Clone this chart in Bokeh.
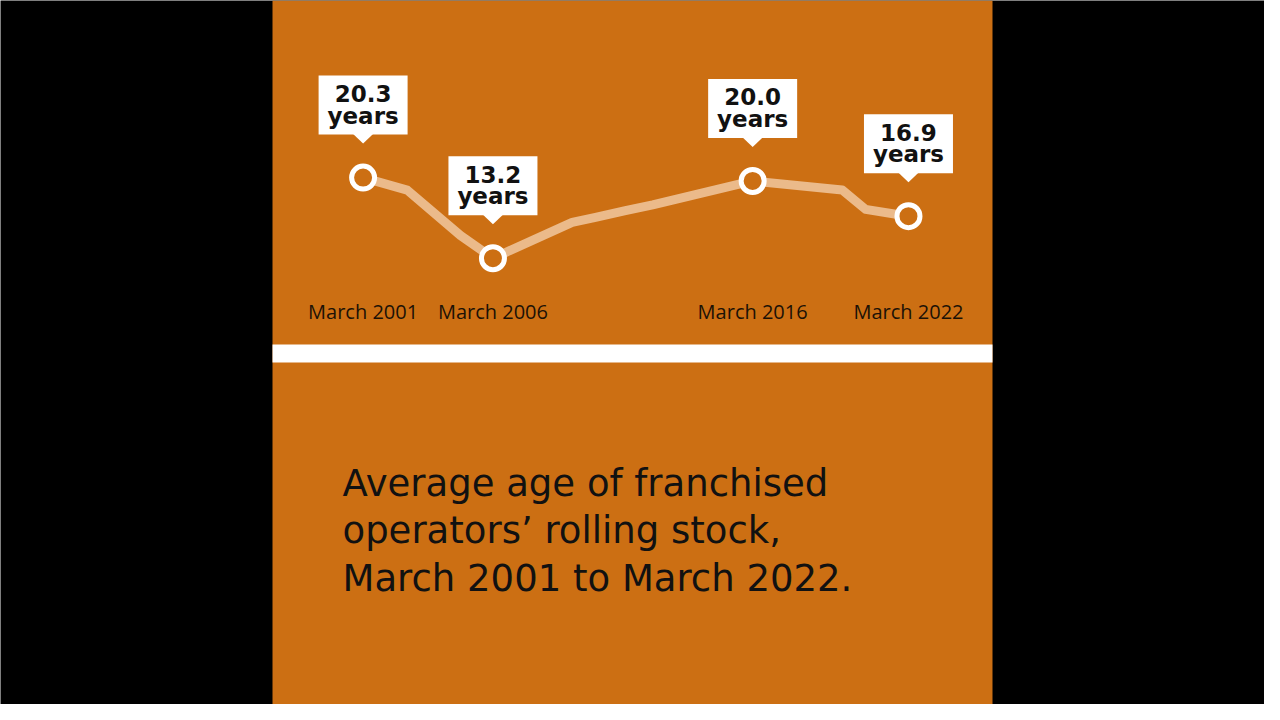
from bokeh.plotting import figure
from bokeh.models import Range1d, BoxAnnotation
from bokeh.core.properties import value
from bokeh.embed import file_html
from bokeh.resources import INLINE

# ---- data ----
years = [2001, 2002.7, 2004.75, 2006, 2009.05, 2009.95, 2011.1, 2012.15, 2016, 2019.45, 2020.35, 2022]
ages = [20.3, 19.2, 15.2, 13.2, 16.35, 16.8, 17.4, 17.9, 20.0, 19.2, 17.5, 16.9]

label_years = [2001, 2006, 2016, 2022]
label_ages = [20.3, 13.2, 20.0, 16.9]
label_values = ["20.3", "13.2", "20.0", "16.9"]
label_unit = ["years", "years", "years", "years"]
date_labels = ["March 2001", "March 2006", "March 2016", "March 2022"]
title_lines = ["Average age of franchised", "operators\u2019 rolling stock,", "March 2001 to March 2022."]

# ---- styling / scale constants ----
ORANGE = "#CC6F13"
LINE_COL = "#EBBA8A"
INK = "#111111"
W, H = 1264, 704
PXY = 25.97      # px per year on x
PYV = 11.36      # px per unit on y
X_REF_YEAR, X_REF_PX = 2001, 362.6
V_REF, Y_REF_PX = 17.6, 207.75


def xd(px):
    return X_REF_YEAR + (px - X_REF_PX) / PXY


def yd(py):
    return V_REF - (py - Y_REF_PX) / PYV


p = figure(width=W, height=H,
           x_range=Range1d(xd(0), xd(W)), y_range=Range1d(yd(H), yd(0)),
           output_backend="svg", toolbar_location=None,
           x_axis_type=None, y_axis_type=None, min_border=0,
           background_fill_color="black", border_fill_color="black",
           outline_line_color=None)

# orange panel and white band
p.add_layout(BoxAnnotation(left=xd(272), right=xd(992), fill_color=ORANGE, fill_alpha=1,
                           line_color=None, level="underlay"))
p.add_layout(BoxAnnotation(left=xd(272), right=xd(992), top=yd(344), bottom=yd(362),
                           fill_color="white", fill_alpha=1, line_color=None, level="underlay"))

# line and markers
p.line(years, ages, line_color=LINE_COL, line_width=9, line_join="round", line_cap="round")
p.scatter(label_years, label_ages, size=23, fill_color=ORANGE, line_color="white", line_width=5)

# callout boxes
box_y = [v + (43 + 29.5) / PYV for v in label_ages]
p.rect(x=label_years, y=box_y, width=89, height=59, width_units="screen", height_units="screen",
       fill_color="white", line_color=None)
tri_xs = [[x - 10.5 / PXY, x + 10.5 / PXY, x] for x in label_years]
tri_ys = [[v + 44 / PYV, v + 44 / PYV, v + 34 / PYV] for v in label_ages]
p.patches(tri_xs, tri_ys, fill_color="white", line_color=None)

p.text(x=label_years, y=[v + 84 / PYV for v in label_ages], text=label_values,
       text_align="center", text_baseline="alphabetic", text_font=value("DejaVu Sans"),
       text_font_style="bold", text_font_size="23px", text_color=INK)
p.text(x=label_years, y=[v + 62 / PYV for v in label_ages], text=label_unit,
       text_align="center", text_baseline="alphabetic", text_font=value("DejaVu Sans"),
       text_font_style="bold", text_font_size="23px", text_color=INK)

# date labels
p.text(x=label_years, y=[yd(310.7)] * len(label_years), text=date_labels,
       text_align="center", text_baseline="alphabetic", text_font=value("Open Sans"),
       text_font_size="20px", text_color="#1C1206")

# title
p.text(x=[xd(342)] * 3, y=[yd(482.7), yd(529.7), yd(577.7)], text=title_lines,
       text_align="left", text_baseline="alphabetic", text_font=value("DejaVu Sans"),
       text_font_size="37px", text_color=INK)

open("out.html", "w").write(file_html(p, INLINE))
